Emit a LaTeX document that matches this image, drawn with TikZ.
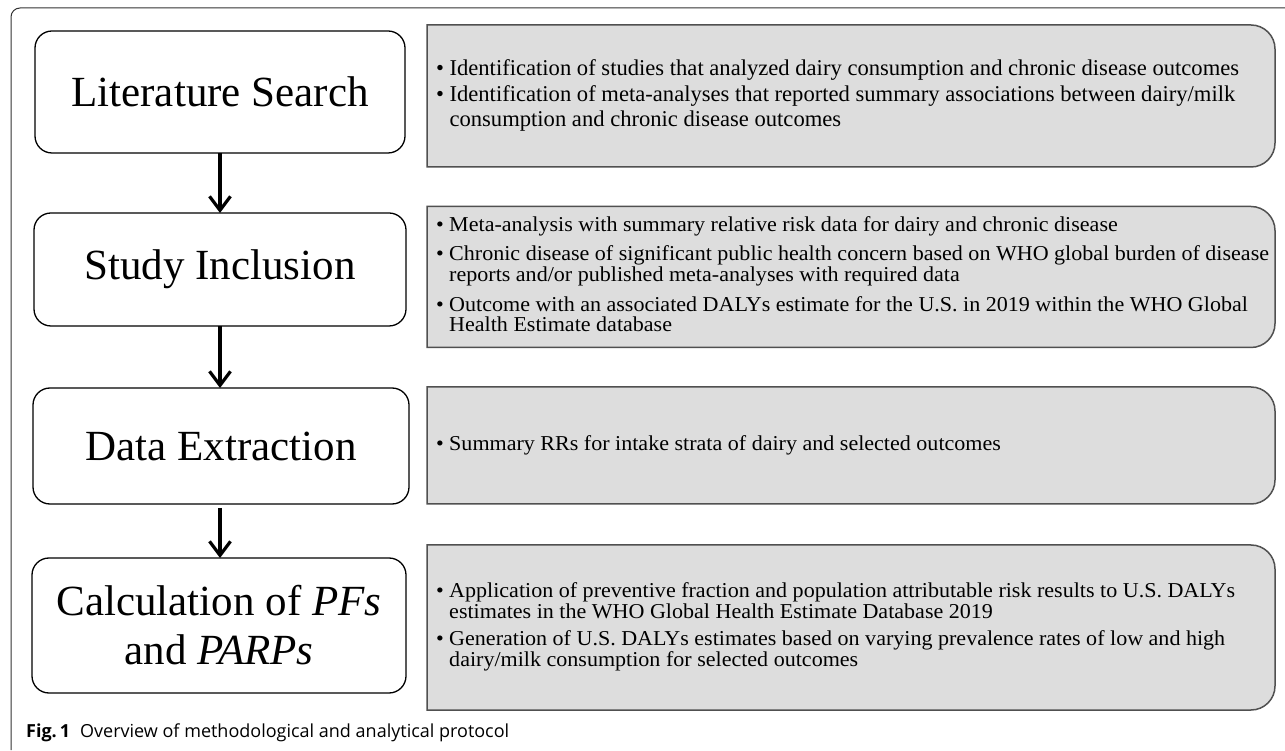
\documentclass[tikz,border=0pt]{standalone}
\usepackage{fontspec}
\usepackage{graphicx}
\setmainfont{Liberation Serif}
\newfontfamily\capfont{Open Sans}
\usetikzlibrary{arrows.meta,backgrounds,calc}
\definecolor{gfill}{RGB}{221,221,221}
\definecolor{gline}{RGB}{80,80,80}
\definecolor{frame}{RGB}{50,50,50}
\tikzset{
  stepbox/.style={draw=black, line width=1.3pt, rounded corners=17pt, inner sep=0pt, outer sep=0pt,
    align=center, font=\fontsize{43}{49}\selectfont},
  gholder/.style={inner sep=0pt, outer sep=0pt},
  gpath/.style={fill=gfill, draw=gline, line width=1.5pt},
  arr/.style={line width=3.2pt, -{Straight Barb[length=14pt,width=21pt]}},
  gtextA/.style={anchor=west, inner sep=0pt, outer sep=0pt, align=left},
}
\newcommand{\gshape}[2]{% node name, radius
  \begin{pgfonlayer}{background}
  \path[gpath] (#1.south west) -- (#1.north west) -- ($(#1.north east)+(-#2,0)$)
    arc[start angle=90,end angle=0,radius=#2] -- ($(#1.south east)+(0,#2)$)
    arc[start angle=0,end angle=-90,radius=#2] -- cycle;
  \end{pgfonlayer}}
\newcommand{\bl}{\textbullet\ }
\newcommand{\bi}{\hphantom{\textbullet\ }}
\begin{document}
\begin{tikzpicture}[x=1pt,y=1pt]
\useasboundingbox (0,0) rectangle (1285,750);
% outer frame
\coordinate (fa) at (11,0);
\coordinate (fb) at (11,742);
\coordinate (fc) at (1285,742);
\draw[frame, line width=1pt, rounded corners=9pt] (fa) -- (fb) -- (fc);

% left step boxes
\node[stepbox, minimum width=370pt, minimum height=122pt] (b1) at (220,658) {Literature Search};
\node[stepbox, minimum width=372pt, minimum height=113pt] (b2) at (220,480.5) {Study Inclusion};
\node[stepbox, minimum width=376pt, minimum height=116pt] (b3) at (221,304) {Data Extraction};
\node[stepbox, minimum width=374pt, minimum height=135pt] (b4) at (219,124.5) {Calculation of \textit{PFs}\\and \textit{PARPs}};

% arrows
\draw[arr] (b1.south) -- (b1.south |- b2.north);
\draw[arr] (b2.south) -- (b2.south |- b3.north);
\draw[arr, shorten <=4pt] (b3.south -| b2.south) -- (b2.south |- b4.north);

% gray boxes
\node[gholder, minimum width=848pt, minimum height=142pt] (g1) at (851,654) {};
\node[gholder, minimum width=848pt, minimum height=141pt] (g2) at (851,473) {};
\node[gholder, minimum width=848pt, minimum height=117pt] (g3) at (851,304.5) {};
\node[gholder, minimum width=848pt, minimum height=165pt] (g4) at (851,122.5) {};
\gshape{g1}{24pt}
\gshape{g2}{24pt}
\gshape{g3}{24pt}
\gshape{g4}{24pt}

\node[gtextA] (t1) at ([xshift=9pt]g1.west) {\fontsize{22.6}{25}\selectfont
\begin{tabular}{@{}l@{}}
\bl Identification of studies that analyzed dairy consumption and chronic disease outcomes\\[1pt]
\bl Identification of meta-analyses that reported summary associations between dairy/milk\\
\bi consumption and chronic disease outcomes
\end{tabular}};

\node[gtextA] (t2) at ([xshift=9pt]g2.west) {\scalebox{1.04}[1]{\fontsize{21.2}{19.5}\selectfont
\begin{tabular}{@{}l@{}}
\bl Meta-analysis with summary relative risk data for dairy and chronic disease\\[9pt]
\bl Chronic disease of significant public health concern based on WHO global burden of disease\\
\bi reports and/or published meta-analyses with required data\\[9pt]
\bl Outcome with an associated DALYs estimate for the U.S. in 2019 within the WHO Global\\
\bi Health Estimate database
\end{tabular}}};

\node[gtextA] (t3) at ([xshift=9pt]g3.west) {\scalebox{1.04}[1]{\fontsize{21.2}{19.5}\selectfont
\bl Summary RRs for intake strata of dairy and selected outcomes}};

\node[gtextA] (t4) at ([xshift=9pt]g4.west) {\scalebox{1.04}[1]{\fontsize{21.2}{20.5}\selectfont
\begin{tabular}{@{}l@{}}
\bl Application of preventive fraction and population attributable risk results to U.S. DALYs\\
\bi estimates in the WHO Global Health Estimate Database 2019\\[6pt]
\bl Generation of U.S. DALYs estimates based on varying prevalence rates of low and high\\
\bi dairy/milk consumption for selected outcomes
\end{tabular}}};

% caption
\node[anchor=west, inner sep=0pt] (cap) at (26,17) {\capfont\fontsize{18}{20}\selectfont\textbf{Fig.\,1}\hspace{10pt}Overview of methodological and analytical protocol};
\end{tikzpicture}
\end{document}
